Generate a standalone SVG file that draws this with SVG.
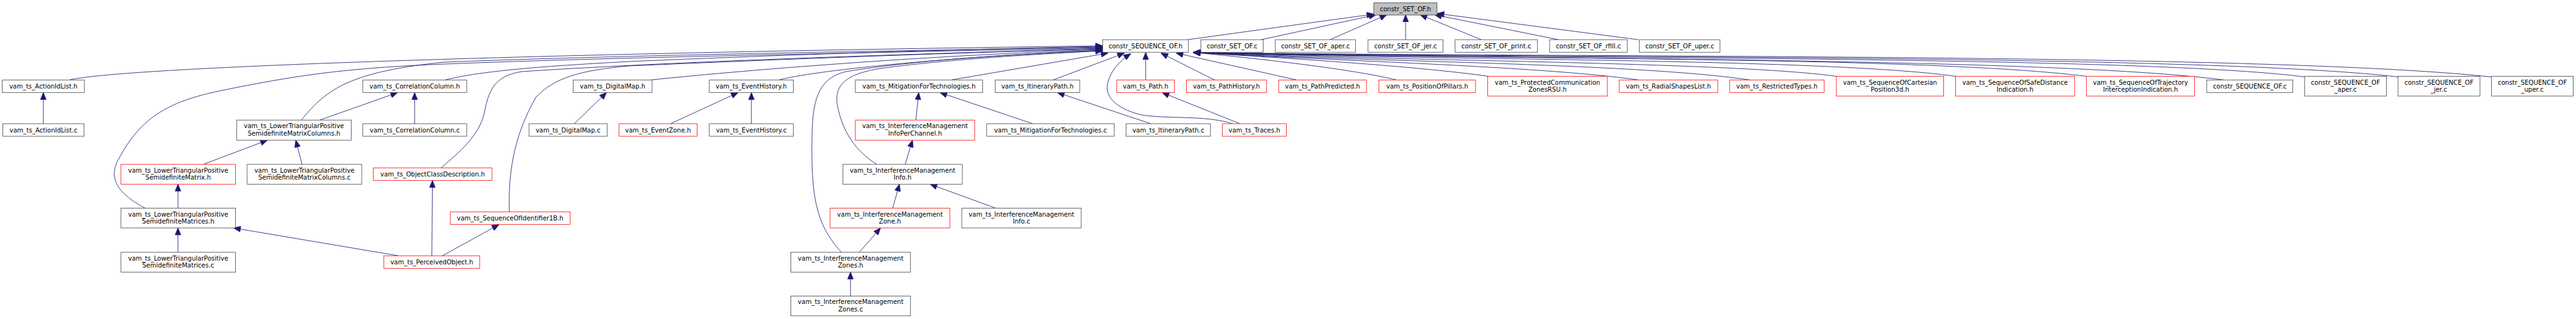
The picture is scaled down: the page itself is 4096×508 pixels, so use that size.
<svg xmlns="http://www.w3.org/2000/svg" width="4096" height="508" viewBox="0 0 4096 508">
<style>
.n rect{fill:#fff;stroke:#404040;stroke-width:0.8}
.r rect{stroke:#ff0000}
.root rect{fill:#bfbfbf;stroke:#404040}
text{font-family:"DejaVu Sans","Liberation Sans",sans-serif;font-size:10px;text-anchor:middle;fill:#000}
#edges path{fill:none;stroke:#191970;stroke-width:0.85;marker-end:url(#ah)}
</style>
<defs>
<marker id="ah" markerUnits="userSpaceOnUse" markerWidth="12" markerHeight="10" refX="11" refY="4.5" orient="auto" overflow="visible">
<path d="M0,0 L11,4.5 L0,9 z" fill="#191970" stroke="#191970" stroke-width="0.8"/>
</marker>
</defs>
<rect x="0" y="0" width="4096" height="508" fill="#fff"/>
<g id="edges">
<path d="M110.3,127.3 C200,106 900,84 1753.3,73"/>
<path d="M707.9,127.3 C760,114 850,106 1000,98 C1300,85 1550,78 1753.3,74"/>
<path d="M479.3,191.2 C520,140 560,114 706,99 C1000,87 1500,80 1753.3,75"/>
<path d="M230.9,331.5 C190,310 170,285 189,252.7 C225,185 270,160 360,142.6 C480,118 560,108 706,102 C1000,90 1500,82 1753.3,76"/>
<path d="M701.2,267.3 C740,235 765,210 771,175 C778,140 790,120 830,114 C1100,96 1500,85 1753.3,77"/>
<path d="M810,337.3 C808,280 815,220 852,155 C880,125 920,112 1000,105 C1300,92 1550,83 1753.3,78"/>
<path d="M1035,127.3 C1200,110 1500,87 1753.3,79"/>
<path d="M1238.9,127.3 C1290,113 1500,91 1753.3,80"/>
<path d="M1337.9,401.8 C1300,360 1290,320 1291,227 C1291,160 1300,125 1345,114 C1450,97 1600,86 1753.3,80.5"/>
<path d="M1394.2,261.8 C1360,240 1340,210 1332,170 C1325,135 1345,118 1400,109 C1500,95 1650,86 1753.3,81"/>
<path d="M1512.6,127.3 L1762,84.5"/>
<path d="M1674.6,127.3 L1788,84.5"/>
<path d="M1960.3,197 C1915,183 1860,190 1815,183 C1770,172 1755,150 1762,130 C1767,112 1780,97 1798,85.5"/>
<path d="M1821.7,127.3 L1821.7,83.5"/>
<path d="M1931.1,127.3 L1846,84.5"/>
<path d="M2061.6,127.3 L1870,84.5"/>
<path d="M2220.5,127.3 C2150,110 2000,93 1897,83.5"/>
<path d="M2366.8,121.5 C2250,105 2050,93 1897,83.5"/>
<path d="M2605.3,127.3 C2450,105 2100,96 1897,83.5"/>
<path d="M2782.2,127.3 C2600,100 2150,98 1897,83.5"/>
<path d="M2919.9,121.5 C2750,98 2200,97 1897,83.5"/>
<path d="M3109.4,121.5 C2900,92 2250,96 1897,83.5"/>
<path d="M3317.7,121.5 C3050,88 2300,95 1897,83.5"/>
<path d="M3536,127.3 C3250,90 2350,95 1897,83.5"/>
<path d="M3664.7,122.5 C3400,88 2400,94 1897,83.5"/>
<path d="M3813,122.5 C3500,86 2450,93 1897,83.5"/>
<path d="M3961.7,122.5 C3600,84 2500,92 1897,83.5"/>
<path d="M1888.3,63.2 L2184.5,22.5"/>
<path d="M2005.3,63.2 L2188,23.5"/>
<path d="M2114.8,63.2 L2205,23.5"/>
<path d="M2235,63.2 L2235,23.5"/>
<path d="M2355.5,63.2 L2258,23.5"/>
<path d="M2478.4,63.2 L2281,23.5"/>
<path d="M2605.3,63.2 L2285,21.5"/>
<path d="M68.9,197 L68.9,147.4"/>
<path d="M659.3,197 L659.3,147.4"/>
<path d="M508.5,191.2 L632.3,147.4"/>
<path d="M323.1,261.8 L425.3,223.2"/>
<path d="M480.2,261.8 L470.3,223.2"/>
<path d="M283,331.5 L283,293.3"/>
<path d="M283,401.8 L283,363"/>
<path d="M633.6,407.3 L371.3,363"/>
<path d="M686.7,407.3 L687.6,287.4"/>
<path d="M703.4,407.3 L793.4,357.7"/>
<path d="M913.1,197 L964.4,147.4"/>
<path d="M1066.1,197 L1173.7,147.4"/>
<path d="M1194.8,197 L1194.8,147.4"/>
<path d="M1456.3,191.2 L1460.8,147.4"/>
<path d="M1642.2,197 L1494.6,147.4"/>
<path d="M1829.8,197 L1681.3,147.4"/>
<path d="M1971.6,197 L1847.8,147.4"/>
<path d="M1439.2,261.8 L1450.9,223.2"/>
<path d="M1419.4,331.5 L1430.2,293.3"/>
<path d="M1583.2,331.5 L1478.8,293.3"/>
<path d="M1366.3,401.8 L1400.1,363"/>
<path d="M1352.3,471.4 L1352.3,433.3"/>
</g>
<g id="constr_SET_OF_h" class="n root"><rect x="2184.5" y="4.5" width="100.4" height="19.5"/><text x="2234.7" y="17.8">constr_SET_OF.h</text></g>
<g id="constr_SEQUENCE_OF_h" class="n"><rect x="1753.3" y="63.2" width="136.4" height="20"/><text x="1821.5" y="76.8">constr_SEQUENCE_OF.h</text></g>
<g id="constr_SET_OF_c" class="n"><rect x="1909.5" y="63.2" width="98.9" height="20"/><text x="1959" y="76.8">constr_SET_OF.c</text></g>
<g id="constr_SET_OF_aper_c" class="n"><rect x="2027.8" y="63.2" width="127.5" height="20"/><text x="2091.6" y="76.8">constr_SET_OF_aper.c</text></g>
<g id="constr_SET_OF_jer_c" class="n"><rect x="2175.1" y="63.2" width="119.3" height="20"/><text x="2234.8" y="76.8">constr_SET_OF_jer.c</text></g>
<g id="constr_SET_OF_print_c" class="n"><rect x="2313.7" y="63.2" width="131" height="20"/><text x="2379.2" y="76.8">constr_SET_OF_print.c</text></g>
<g id="constr_SET_OF_rfill_c" class="n"><rect x="2464" y="63.2" width="123.3" height="20"/><text x="2525.7" y="76.8">constr_SET_OF_rfill.c</text></g>
<g id="constr_SET_OF_uper_c" class="n"><rect x="2606.7" y="63.2" width="128.2" height="20"/><text x="2670.8" y="76.8">constr_SET_OF_uper.c</text></g>
<g id="ActionIdList_h" class="n"><rect x="3.6" y="127.3" width="130.5" height="20"/><text x="68.9" y="140.9">vam_ts_ActionIdList.h</text></g>
<g id="CorrelationColumn_h" class="n"><rect x="576.9" y="127.3" width="165.2" height="20"/><text x="659.5" y="140.9">vam_ts_CorrelationColumn.h</text></g>
<g id="DigitalMap_h" class="n"><rect x="911.3" y="127.3" width="125.6" height="20"/><text x="974.1" y="140.9">vam_ts_DigitalMap.h</text></g>
<g id="EventHistory_h" class="n"><rect x="1127.8" y="127.3" width="133.6" height="20"/><text x="1194.6" y="140.9">vam_ts_EventHistory.h</text></g>
<g id="MitigationForTechnologies_h" class="n"><rect x="1360" y="127.3" width="202.5" height="20"/><text x="1461.3" y="140.9">vam_ts_MitigationForTechnologies.h</text></g>
<g id="ItineraryPath_h" class="n"><rect x="1582.3" y="127.3" width="134.6" height="20"/><text x="1649.6" y="140.9">vam_ts_ItineraryPath.h</text></g>
<g id="Path_h" class="n r"><rect x="1775.8" y="127.3" width="91.8" height="20"/><text x="1821.7" y="140.9">vam_ts_Path.h</text></g>
<g id="PathHistory_h" class="n r"><rect x="1886.5" y="127.3" width="127.4" height="20"/><text x="1950.2" y="140.9">vam_ts_PathHistory.h</text></g>
<g id="PathPredicted_h" class="n r"><rect x="2033.2" y="127.3" width="139.7" height="20"/><text x="2103" y="140.9">vam_ts_PathPredicted.h</text></g>
<g id="PositionOfPillars_h" class="n r"><rect x="2192.6" y="127.3" width="153.5" height="20"/><text x="2269.4" y="140.9">vam_ts_PositionOfPillars.h</text></g>
<g id="ProtectedCommunicationZonesRSU_h" class="n r"><rect x="2365.5" y="121.5" width="190.3" height="31.5"/><text x="2460.6" y="134.5">vam_ts_ProtectedCommunication</text><text x="2460.6" y="146.1">ZonesRSU.h</text></g>
<g id="RadialShapesList_h" class="n r"><rect x="2574.7" y="127.3" width="156.6" height="20"/><text x="2653" y="140.9">vam_ts_RadialShapesList.h</text></g>
<g id="RestrictedTypes_h" class="n r"><rect x="2750.2" y="127.3" width="150.4" height="20"/><text x="2825.4" y="140.9">vam_ts_RestrictedTypes.h</text></g>
<g id="SequenceOfCartesianPosition3d_h" class="n r"><rect x="2919.9" y="121.5" width="170.6" height="31.5"/><text x="3005.2" y="134.5">vam_ts_SequenceOfCartesian</text><text x="3005.2" y="146.1">Position3d.h</text></g>
<g id="SequenceOfSafeDistanceIndication_h" class="n r"><rect x="3109.4" y="121.5" width="189.4" height="31.5"/><text x="3204.1" y="134.5">vam_ts_SequenceOfSafeDistance</text><text x="3204.1" y="146.1">Indication.h</text></g>
<g id="SequenceOfTrajectoryInterceptionIndication_h" class="n r"><rect x="3317.7" y="121.5" width="171.9" height="31.5"/><text x="3403.6" y="134.5">vam_ts_SequenceOfTrajectory</text><text x="3403.6" y="146.1">InterceptionIndication.h</text></g>
<g id="constr_SEQUENCE_OF_c" class="n"><rect x="3508.9" y="127.3" width="136.8" height="20"/><text x="3577.3" y="140.9">constr_SEQUENCE_OF.c</text></g>
<g id="constr_SEQUENCE_OF_aper_c" class="n"><rect x="3664.7" y="121.5" width="129.7" height="31.5"/><text x="3729.5" y="134.5">constr_SEQUENCE_OF</text><text x="3729.5" y="146.1">_aper.c</text></g>
<g id="constr_SEQUENCE_OF_jer_c" class="n"><rect x="3813" y="121.5" width="130.2" height="31.5"/><text x="3878.1" y="134.5">constr_SEQUENCE_OF</text><text x="3878.1" y="146.1">_jer.c</text></g>
<g id="constr_SEQUENCE_OF_uper_c" class="n"><rect x="3961.7" y="121.5" width="129.8" height="31.5"/><text x="4026.6" y="134.5">constr_SEQUENCE_OF</text><text x="4026.6" y="146.1">_uper.c</text></g>
<g id="ActionIdList_c" class="n"><rect x="4.5" y="197" width="129.2" height="20"/><text x="69.1" y="210.6">vam_ts_ActionIdList.c</text></g>
<g id="LTPSMatrixColumns_h" class="n"><rect x="376.2" y="191.2" width="182.3" height="32"/><text x="467.4" y="204.2">vam_ts_LowerTriangularPositive</text><text x="467.4" y="215.8">SemidefiniteMatrixColumns.h</text></g>
<g id="CorrelationColumn_c" class="n"><rect x="576.9" y="197" width="165.2" height="20"/><text x="659.5" y="210.6">vam_ts_CorrelationColumn.c</text></g>
<g id="DigitalMap_c" class="n"><rect x="841.1" y="197" width="124.2" height="20"/><text x="903.2" y="210.6">vam_ts_DigitalMap.c</text></g>
<g id="EventZone_h" class="n r"><rect x="984.2" y="197" width="124.2" height="20"/><text x="1046.3" y="210.6">vam_ts_EventZone.h</text></g>
<g id="EventHistory_c" class="n"><rect x="1127.8" y="197" width="133.6" height="20"/><text x="1194.6" y="210.6">vam_ts_EventHistory.c</text></g>
<g id="InterferenceManagementInfoPerChannel_h" class="n r"><rect x="1360" y="191.2" width="189.9" height="32"/><text x="1455" y="204.2">vam_ts_InterferenceManagement</text><text x="1455" y="215.8">InfoPerChannel.h</text></g>
<g id="MitigationForTechnologies_c" class="n"><rect x="1568.8" y="197" width="203" height="20"/><text x="1670.3" y="210.6">vam_ts_MitigationForTechnologies.c</text></g>
<g id="ItineraryPath_c" class="n"><rect x="1790.6" y="197" width="134.2" height="20"/><text x="1857.7" y="210.6">vam_ts_ItineraryPath.c</text></g>
<g id="Traces_h" class="n r"><rect x="1943.7" y="197" width="101.7" height="20"/><text x="1994.6" y="210.6">vam_ts_Traces.h</text></g>
<g id="LTPSMatrix_h" class="n r"><rect x="192.2" y="261.8" width="182.2" height="31.5"/><text x="283.3" y="274.8">vam_ts_LowerTriangularPositive</text><text x="283.3" y="286.4">SemidefiniteMatrix.h</text></g>
<g id="LTPSMatrixColumns_c" class="n"><rect x="392.9" y="261.8" width="182.2" height="31.5"/><text x="484" y="274.8">vam_ts_LowerTriangularPositive</text><text x="484" y="286.4">SemidefiniteMatrixColumns.c</text></g>
<g id="ObjectClassDescription_h" class="n r"><rect x="593.6" y="267.3" width="188.6" height="20"/><text x="687.9" y="280.9">vam_ts_ObjectClassDescription.h</text></g>
<g id="InterferenceManagementInfo_h" class="n"><rect x="1340.2" y="261.8" width="189.9" height="31.5"/><text x="1435.2" y="274.8">vam_ts_InterferenceManagement</text><text x="1435.2" y="286.4">Info.h</text></g>
<g id="LTPSMatrices_h" class="n"><rect x="192.2" y="331.5" width="182.2" height="31.5"/><text x="283.3" y="344.5">vam_ts_LowerTriangularPositive</text><text x="283.3" y="356.1">SemidefiniteMatrices.h</text></g>
<g id="SequenceOfIdentifier1B_h" class="n r"><rect x="716" y="337.3" width="190.4" height="20"/><text x="811.2" y="350.9">vam_ts_SequenceOfIdentifier1B.h</text></g>
<g id="InterferenceManagementZone_h" class="n r"><rect x="1319.9" y="331.5" width="190.4" height="31.5"/><text x="1415.1" y="344.5">vam_ts_InterferenceManagement</text><text x="1415.1" y="356.1">Zone.h</text></g>
<g id="InterferenceManagementInfo_c" class="n"><rect x="1529.2" y="331.5" width="189.9" height="31.5"/><text x="1624.2" y="344.5">vam_ts_InterferenceManagement</text><text x="1624.2" y="356.1">Info.c</text></g>
<g id="LTPSMatrices_c" class="n"><rect x="192.2" y="401.8" width="182.2" height="31.5"/><text x="283.3" y="414.8">vam_ts_LowerTriangularPositive</text><text x="283.3" y="426.4">SemidefiniteMatrices.c</text></g>
<g id="PerceivedObject_h" class="n r"><rect x="610.2" y="407.3" width="152.6" height="20"/><text x="686.5" y="420.9">vam_ts_PerceivedObject.h</text></g>
<g id="InterferenceManagementZones_h" class="n"><rect x="1257.4" y="401.8" width="190.4" height="31.5"/><text x="1352.6" y="414.8">vam_ts_InterferenceManagement</text><text x="1352.6" y="426.4">Zones.h</text></g>
<g id="InterferenceManagementZones_c" class="n"><rect x="1257.4" y="471.4" width="190.4" height="31.5"/><text x="1352.6" y="484.4">vam_ts_InterferenceManagement</text><text x="1352.6" y="496">Zones.c</text></g>
</svg>
